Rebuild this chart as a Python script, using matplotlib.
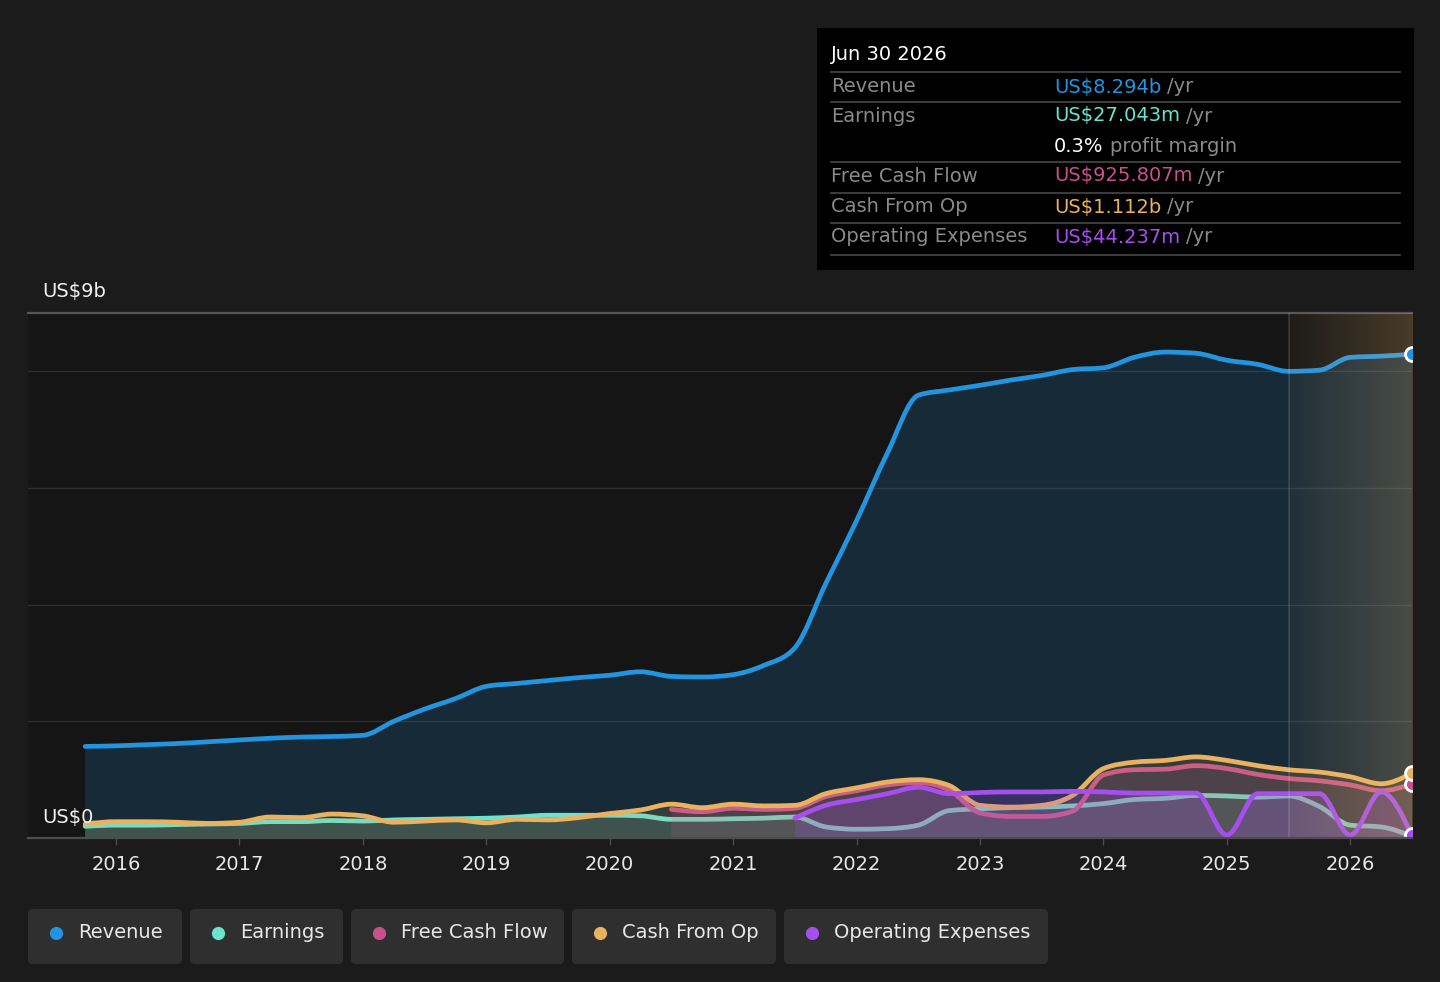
import matplotlib
matplotlib.use('Agg')
import matplotlib.pyplot as plt
import numpy as np
from matplotlib.lines import Line2D
from matplotlib.patches import Rectangle, FancyBboxPatch, PathPatch
from matplotlib.path import Path
from matplotlib.transforms import IdentityTransform

W, H = 1440, 982

# ---------------- data (US$ billions, trailing 12 months, quarterly) ----------------
quarters = [2015.75, 2016.0, 2016.25, 2016.5, 2016.75, 2017.0, 2017.25, 2017.5, 2017.75,
            2018.0, 2018.25, 2018.5, 2018.75, 2019.0, 2019.25, 2019.5, 2019.75,
            2020.0, 2020.25, 2020.5, 2020.75, 2021.0, 2021.25, 2021.5, 2021.75,
            2022.0, 2022.25, 2022.5, 2022.75, 2023.0, 2023.25, 2023.5, 2023.75,
            2024.0, 2024.25, 2024.5, 2024.75, 2025.0, 2025.25, 2025.5, 2025.75,
            2026.0, 2026.25, 2026.5]

revenue = [1.57, 1.58, 1.60, 1.62, 1.65, 1.68, 1.71, 1.73, 1.74, 1.76, 2.00, 2.21, 2.39,
           2.60, 2.65, 2.70, 2.75, 2.79, 2.85, 2.77, 2.76, 2.80, 2.96, 3.26, 4.36, 5.44,
           6.60, 7.59, 7.68, 7.76, 7.85, 7.93, 8.03, 8.06, 8.24, 8.33, 8.31, 8.19, 8.12,
           8.00, 8.02, 8.24, 8.26, 8.294]

earnings = [0.20, 0.22, 0.22, 0.23, 0.24, 0.25, 0.28, 0.28, 0.30, 0.29, 0.31, 0.32, 0.33,
            0.34, 0.36, 0.39, 0.39, 0.39, 0.38, 0.32, 0.32, 0.33, 0.34, 0.36, 0.19, 0.15,
            0.16, 0.22, 0.47, 0.50, 0.52, 0.53, 0.55, 0.59, 0.66, 0.68, 0.73, 0.72, 0.70,
            0.72, 0.54, 0.22, 0.19, 0.027]

cash_from_op = [0.24, 0.28, 0.28, 0.27, 0.25, 0.27, 0.36, 0.35, 0.41, 0.38, 0.27, 0.29, 0.31,
                0.26, 0.32, 0.31, 0.35, 0.42, 0.48, 0.58, 0.52, 0.58, 0.55, 0.56, 0.76, 0.86,
                0.96, 1.00, 0.90, 0.56, 0.53, 0.56, 0.73, 1.19, 1.30, 1.33, 1.39, 1.33, 1.24,
                1.17, 1.13, 1.05, 0.93, 1.112]

# free cash flow starts 2020.5
fcf_start = 2020.5
free_cash_flow = [0.49, 0.45, 0.51, 0.49, 0.51, 0.71, 0.81, 0.91, 0.95, 0.82, 0.43, 0.37,
                  0.37, 0.46, 1.08, 1.17, 1.18, 1.24, 1.19, 1.09, 1.02, 0.98, 0.91, 0.81, 0.926]

# operating expenses start 2021.5
opex_start = 2021.5
operating_expenses = [0.34, 0.56, 0.66, 0.76, 0.87, 0.76, 0.78, 0.79, 0.79, 0.80, 0.79,
                      0.77, 0.77, 0.77, 0.05, 0.76, 0.76, 0.76, 0.05, 0.79, 0.044]

year_ticks = [2016, 2017, 2018, 2019, 2020, 2021, 2022, 2023, 2024, 2025, 2026]
forecast_start = 2025.5

series_names = ['Revenue', 'Earnings', 'Free Cash Flow', 'Cash From Op', 'Operating Expenses']
colors = {'Revenue': '#2394DF', 'Earnings': '#6CE3CB', 'Free Cash Flow': '#C8518A',
          'Cash From Op': '#E9B160', 'Operating Expenses': '#A64FEE'}

tooltip_date = 'Jun 30 2026'
tooltip_values = ['US$8.294b', 'US$27.043m', 'US$925.807m', 'US$1.112b', 'US$44.237m']
profit_margin = '0.3%'

FS = 14


# ---------------- monotone-x curve rendering (d3 curveMonotoneX style) ----------------
def monotone_path_vertices(x, y):
    x = np.asarray(x, float)
    y = np.asarray(y, float)
    n = len(x)
    h = np.diff(x)
    s = np.diff(y) / h
    t = np.zeros(n)
    for i in range(1, n - 1):
        s0, s1 = s[i - 1], s[i]
        h0, h1 = h[i - 1], h[i]
        p = (s0 * h1 + s1 * h0) / (h0 + h1)
        t[i] = (np.sign(s0) + np.sign(s1)) * min(abs(s0), abs(s1), 0.5 * abs(p))
    if n > 2:
        t[0] = (3 * s[0] - t[1]) / 2
        t[-1] = (3 * s[-1] - t[-2]) / 2
    else:
        t[0] = t[-1] = s[0]
    verts = [(x[0], y[0])]
    codes = [Path.MOVETO]
    for i in range(n - 1):
        dx = h[i] / 3
        verts += [(x[i] + dx, y[i] + dx * t[i]), (x[i + 1] - dx, y[i + 1] - dx * t[i + 1]),
                  (x[i + 1], y[i + 1])]
        codes += [Path.CURVE4] * 3
    return verts, codes


# ---------------- figure ----------------
fig = plt.figure(figsize=(W / 100, H / 100), dpi=100, facecolor='#1b1b1b')
ax = fig.add_axes([28 / W, 1 - 838 / H, (1412 - 28) / W, (838 - 313) / H])
ax.set_facecolor('#151515')
for s in ax.spines.values():
    s.set_visible(False)

i_fcf = quarters.index(fcf_start)
i_opx = quarters.index(opex_start)
data = {
    'Revenue': (quarters, revenue, 0.17),
    'Earnings': (quarters, earnings, 0.14),
    'Free Cash Flow': (quarters[i_fcf:], free_cash_flow, 0.16),
    'Cash From Op': (quarters, cash_from_op, 0.14),
    'Operating Expenses': (quarters[i_opx:], operating_expenses, 0.22),
}

z = 2
for name in series_names:
    xs, ys, a = data[name]
    c = colors[name]
    verts, codes = monotone_path_vertices(xs, ys)
    fverts = verts + [(xs[-1], 0), (xs[0], 0), (xs[0], ys[0])]
    fcodes = codes + [Path.LINETO, Path.LINETO, Path.CLOSEPOLY]
    ax.add_patch(PathPatch(Path(fverts, fcodes), facecolor=c, alpha=a, lw=0,
                           edgecolor='none', zorder=z))
    ax.add_patch(PathPatch(Path(verts, codes), facecolor='none', edgecolor=c, lw=3.4,
                           joinstyle='round', capstyle='round', zorder=z + 1))
    z += 2

# grid lines
for v in [2, 4, 6, 8]:
    ax.axhline(v, color='#2e2e2e', lw=1.0, zorder=1)
ax.axhline(9, color='#555555', lw=1.6, zorder=1, clip_on=False)
ax.axhline(0, color='#4d4d4d', lw=1.6, zorder=30, clip_on=False)

# forecast shading
grad = np.zeros((2, 256, 4))
grad[..., 0] = 1.0
grad[..., 1] = 0.78
grad[..., 2] = 0.47
grad[..., 3] = np.linspace(0.04, 0.22, 256)[None, :]
ax.imshow(grad, extent=[forecast_start, quarters[-1], 0, 9], aspect='auto', zorder=20,
          interpolation='bilinear')
ax.axvline(forecast_start, color='#ffffff', alpha=0.14, lw=1.2, zorder=21)

# end markers
for name in series_names:
    xs, ys, a = data[name]
    ax.plot([xs[-1]], [ys[-1]], 'o', ms=10, color=colors[name], mec='white', mew=2,
            zorder=25, clip_on=True)

ax.set_xlim(2015.287, 2026.5)
ax.set_ylim(0, 9)
ax.set_yticks([])
ax.set_xticks(year_ticks)
ax.set_xticklabels([str(y) for y in year_ticks])
ax.tick_params(axis='x', colors='#4d4d4d', labelcolor='#e8e8e8', length=5, width=1,
               labelsize=FS, pad=7)


def fx(x):
    return x / W


def fy(y):
    return 1 - y / H


# y labels
fig.text(fx(42), fy(291), 'US$9b', ha='left', va='center', color='#f0f0f0', fontsize=FS)
fig.text(fx(42), fy(818), 'US$0', ha='left', va='center', color='#f0f0f0', fontsize=FS,
         zorder=40)

# ---------------- tooltip ----------------
fig.add_artist(Rectangle((fx(817), fy(270)), (1414 - 817) / W, (270 - 28) / H,
                         transform=fig.transFigure, facecolor='#000000', edgecolor='none'))
fig.text(fx(831), fy(55), tooltip_date, ha='left', va='center', color='#ffffff', fontsize=FS)
for yy in [72, 102, 162, 193, 223, 255]:
    fig.add_artist(Line2D([fx(831), fx(1400)], [fy(yy), fy(yy)], color='#424242', lw=1.3,
                          transform=fig.transFigure))

renderer = fig.canvas.get_renderer()
row_y = [87, 116, 176, 207, 237]
label_col = '#8a8a8a'
for name, val, yy in zip(series_names, tooltip_values, row_y):
    fig.text(fx(831), fy(yy), name, ha='left', va='center', color=label_col, fontsize=FS)
    t = fig.text(fx(1054), fy(yy), val, ha='left', va='center', color=colors[name], fontsize=FS)
    bb = t.get_window_extent(renderer=renderer)
    fig.text((bb.x1 + 6) / W, fy(yy), '/yr', ha='left', va='center', color=label_col,
             fontsize=FS)
t = fig.text(fx(1054), fy(146), profit_margin, ha='left', va='center', color='#ffffff',
             fontsize=FS)
bb = t.get_window_extent(renderer=renderer)
fig.text((bb.x1 + 6) / W, fy(146), 'profit margin', ha='left', va='center', color=label_col,
         fontsize=FS)

# ---------------- legend ----------------
boxes = [(28, 182), (190, 343), (351, 564), (572, 776), (784, 1048)]
for name, (x0, x1) in zip(series_names, boxes):
    fig.add_artist(FancyBboxPatch((x0, H - 964), x1 - x0, 55,
                                  boxstyle='round,pad=0,rounding_size=5',
                                  transform=IdentityTransform(), facecolor='#2f2f2f',
                                  edgecolor='none'))
    fig.add_artist(Line2D([x0 + 28], [H - 933], marker='o', ms=9.5, color=colors[name],
                          mec='none', transform=IdentityTransform()))
    fig.text(fx(x0 + 50), fy(933), name, ha='left', va='center', color='#e8e8e8',
             fontsize=FS)

fig.savefig('out.png', dpi=100, facecolor=fig.get_facecolor())
